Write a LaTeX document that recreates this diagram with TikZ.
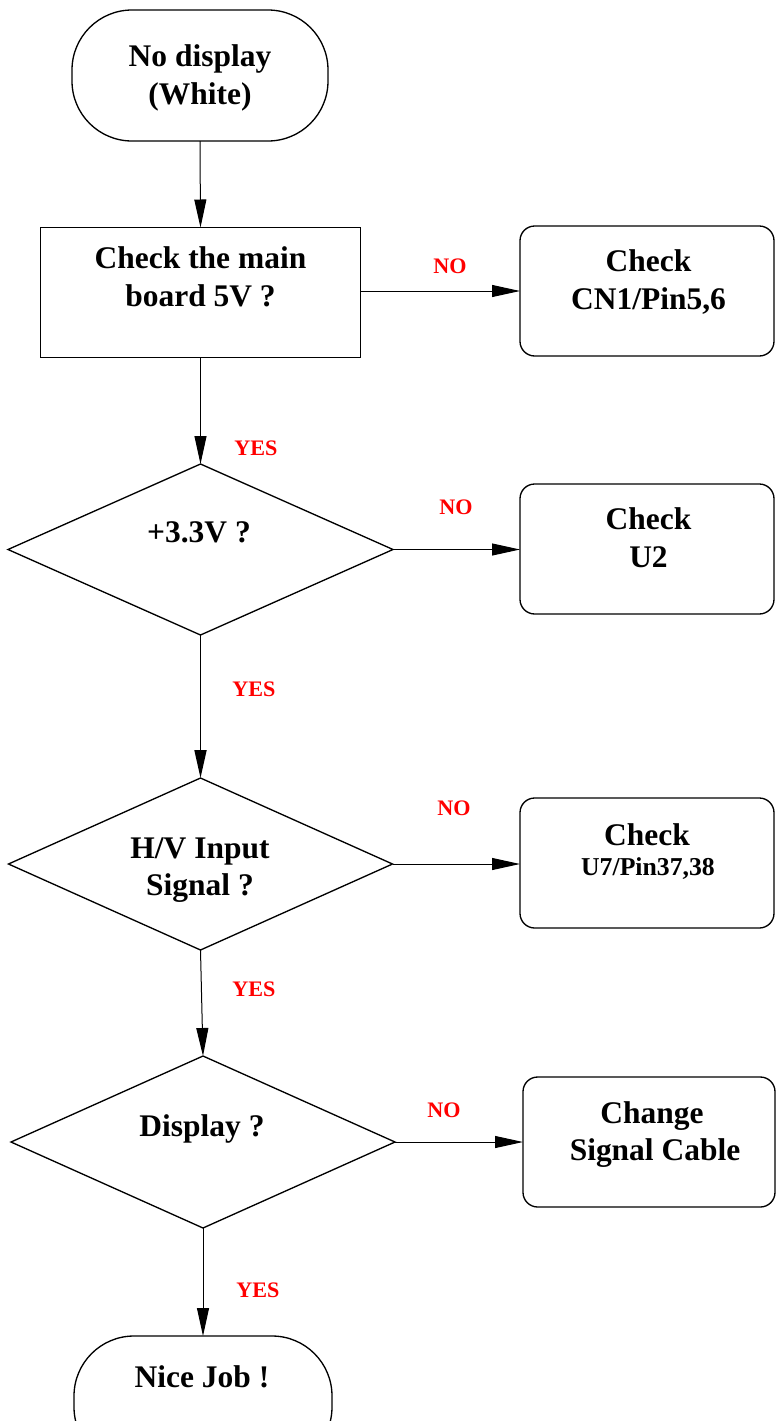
\documentclass[tikz,border=0pt]{standalone}
\usepackage{fontspec}
\setmainfont{Liberation Serif}
\usetikzlibrary{shapes.geometric,arrows.meta}
\begin{document}
\begin{tikzpicture}[x=0.75pt,y=-0.75pt,
  shapebox/.style={draw,line width=1pt,inner sep=0pt,outer sep=0pt},
  term/.style={shapebox,rectangle,rounded corners=45pt},
  procbox/.style={shapebox,rectangle},
  endbox/.style={shapebox,rectangle,rounded corners=11pt},
  decision/.style={shapebox,diamond},
  txt/.style={anchor=base,align=center,font=\fontsize{23.6pt}{28.5pt}\selectfont\bfseries},
  smalltxt/.style={anchor=base,font=\fontsize{19.3pt}{23pt}\selectfont\bfseries},
  lab/.style={anchor=base,text=red,font=\fontsize{16.6pt}{19pt}\selectfont\bfseries},
  conn/.style={line width=0.75pt,-{Triangle[length=21pt,width=9pt]}},
  connthick/.style={line width=1.3pt,-{Triangle[length=21pt,width=9pt]}}
]
\useasboundingbox (0,0) rectangle (775,1421);

% shapes
\node[term,minimum width=256*0.75pt,minimum height=131*0.75pt] (start) at (200,75.5) {};
\node[procbox,minimum width=320*0.75pt,minimum height=130*0.75pt] (main5v) at (200.5,292.5) {};
\node[endbox,minimum width=254*0.75pt,minimum height=130*0.75pt] (cn1) at (647,291) {};
\node[decision,minimum width=385*0.75pt,minimum height=171*0.75pt] (v33) at (200.5,549.5) {};
\node[endbox,minimum width=254*0.75pt,minimum height=130*0.75pt] (u2) at (647,549) {};
\node[decision,minimum width=384*0.75pt,minimum height=172*0.75pt] (hv) at (200.5,864) {};
\node[endbox,minimum width=254*0.75pt,minimum height=130*0.75pt] (u7) at (647,863) {};
\node[decision,minimum width=384*0.75pt,minimum height=172*0.75pt] (disp) at (203,1142) {};
\node[endbox,minimum width=252*0.75pt,minimum height=130*0.75pt] (cable) at (649,1142) {};
\node[term,minimum width=258*0.75pt,minimum height=131*0.75pt] (nice) at (203,1401.5) {};

% texts
\node[txt] (t1a) at (200,66) {No display};
\node[txt] (t1b) at (200,104) {(White)};
\node[txt] (t2a) at (200.5,268) {Check the main};
\node[txt] (t2b) at (200.5,306) {board 5V ?};
\node[txt] (t3a) at (648.5,271) {Check};
\node[txt] (t3b) at (648.5,309) {CN1/Pin5,6};
\node[txt] (t4) at (199,542) {+3.3V ?};
\node[txt] (t5a) at (648.5,529) {Check};
\node[txt] (t5b) at (648.5,567) {U2};
\node[txt] (t6a) at (200,858) {H/V Input};
\node[txt] (t6b) at (200,895) {Signal ?};
\node[txt] (t7a) at (647,845) {Check};
\node[smalltxt] (t7b) at (648,875) {U7/Pin37,38};
\node[txt] (t8) at (202,1136) {Display ?};
\node[txt] (t9a) at (652,1123) {Change};
\node[txt] (t9b) at (655,1160) {Signal Cable};
\node[txt] (t10) at (202,1387) {Nice Job !};

% connectors
\draw[conn] (start.south) -- (main5v.north);
\draw[conn] (main5v.east |- cn1.west) -- (cn1.west);
\draw[conn] (main5v.south) -- (v33.north);
\draw[conn] (v33.east) -- (v33.east -| u2.west);
\draw[connthick] (v33.south) -- (hv.north);
\draw[conn] (hv.east) -- (hv.east -| u7.west);
\draw[conn] (hv.south) -- (disp.north);
\draw[conn] (disp.east) -- (disp.east -| cable.west);
\draw[conn] (disp.south) -- (nice.north);

% labels
\node[lab] (no1) at (450,273) {NO};
\node[lab] (yes1) at (256,455) {YES};
\node[lab] (no2) at (456,514) {NO};
\node[lab] (yes2) at (254,696) {YES};
\node[lab] (no3) at (454,815) {NO};
\node[lab] (yes3) at (254,996) {YES};
\node[lab] (no4) at (444,1117) {NO};
\node[lab] (yes4) at (258,1297) {YES};
\end{tikzpicture}
\end{document}
